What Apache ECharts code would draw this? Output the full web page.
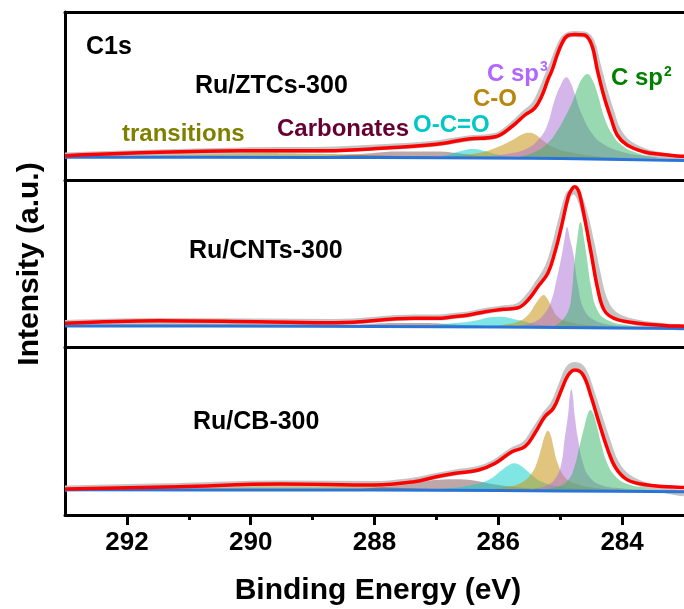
<!DOCTYPE html>
<html>
<head>
<meta charset="utf-8">
<script src="https://cdn.jsdelivr.net/npm/echarts@6/dist/echarts.min.js"></script>
<style>
html,body{margin:0;padding:0;background:#fff;}
#chart{width:684px;height:609px;}
</style>
</head>
<body>
<div id="chart"></div>
<script>
// ---------- tick labels ----------
const majorTicks = [284, 286, 288, 290, 292];
const minorTicks = [285, 287, 289, 291];
const sampleNames = ['Ru/ZTCs-300', 'Ru/CNTs-300', 'Ru/CB-300'];
const componentNames = ['transitions', 'Carbonates', 'O-C=O', 'C-O', 'C sp3', 'C sp2'];

// ---------- Panel 1: Ru/ZTCs-300 ----------
const p1Raw = [[293.0,24.5],[292.01,26.6],[290.15,29.6],[288.81,30.3],[287.76,33.3],[287.0,36.6],[286.48,41.6],[286.05,44],[285.77,55.5],[285.57,67],[285.41,76],[285.29,91],[285.2,105],[285.13,115],[285.05,128],[284.97,139],[284.89,144.5],[284.77,146],[284.61,145.5],[284.49,138],[284.4,117],[284.29,91],[284.17,67],[284.08,51],[283.92,38],[283.65,29],[283.38,24.8],[283.1,22],[283.0,21.5]];
const p1Fit = [[293.0,24.3],[292.01,26.7],[290.15,29.3],[288.81,29.3],[287.76,32.3],[287.0,35.7],[286.48,41],[286.05,43.3],[285.77,54],[285.57,65],[285.41,72],[285.29,85],[285.2,100],[285.13,110],[285.05,125],[284.97,137],[284.89,144],[284.77,145.5],[284.61,145],[284.49,135],[284.4,110],[284.29,83],[284.17,60],[284.08,45],[283.92,35],[283.65,28.3],[283.38,25.7],[283.1,24],[283.0,23.8]];
const p1Base = [[293.0,22.8],[289.0,22.6],[287.0,22.3],[285.5,21.8],[284.5,21.0],[283.5,20.0],[283.0,19.5]];
const p1Trans = [[293.0,23.5],[291.64,25.5],[290.15,27],[288.76,26],[287.64,24],[286.53,22.5],[285.41,22]];
const p1Carb = [[289.4,22.8],[288.76,24],[288.12,26.5],[287.64,28.5],[287.0,28.5],[286.61,26.5],[286.21,23.5],[285.73,22]];
const p1OCO = [[287.0,22.2],[286.77,26],[286.57,29.5],[286.42,31],[286.25,29.5],[286.05,26],[285.81,23],[285.57,21.8]];
const p1CO = [[286.85,22.5],[286.32,27],[286.05,32],[285.77,40],[285.62,45.5],[285.51,47.3],[285.4,45.5],[285.29,40],[285.09,32],[284.77,27],[284.33,23.3],[283.81,22],[283.3,21]];
const p1Sp3 = [[286.32,23],[285.77,27],[285.52,32],[285.36,40],[285.22,53],[285.09,80],[284.99,95],[284.9,102.7],[284.83,97],[284.77,87],[284.66,67],[284.49,47],[284.33,37],[284.01,28.3],[283.6,24],[283.1,21.5],[283.0,21.3]];
const p1Sp2 = [[285.73,22],[285.41,28],[285.2,37],[285.04,50],[284.93,62],[284.81,77],[284.72,92],[284.64,102],[284.56,106],[284.48,100],[284.4,87],[284.29,63],[284.17,47],[284.01,35],[283.76,27],[283.49,23.3],[283.1,21],[283.0,20.8]];

// ---------- Panel 2: Ru/CNTs-300 ----------
const p2Raw = [[293.0,24],[291.49,26],[289.9,25.5],[288.63,25],[287.36,29.5],[287.0,29.5],[286.72,31],[286.48,32.5],[286.21,36],[285.93,38.5],[285.68,41],[285.52,50],[285.36,64],[285.2,80],[285.09,101],[284.98,128],[284.87,152],[284.81,155],[284.77,155.5],[284.73,154],[284.69,150],[284.61,135],[284.5,105],[284.39,72],[284.29,48],[284.13,33],[283.81,25],[283.28,20.5],[283.1,19.8],[283.0,19.5]];
const p2Fit = [[293.0,23.7],[291.49,26.3],[289.9,25.3],[288.63,24.3],[287.36,28.7],[287.0,28.7],[286.72,30.3],[286.48,32],[286.21,35.3],[285.93,37.7],[285.68,39.3],[285.52,47],[285.36,60.3],[285.2,73.7],[285.09,93.7],[284.98,120.3],[284.87,150.3],[284.81,158],[284.77,160.3],[284.73,159],[284.69,153.7],[284.61,130.3],[284.5,93.7],[284.39,57],[284.29,37],[284.13,28.7],[283.81,24.3],[283.28,21.3],[283.1,21],[283.0,20.8]];
const p2Base = [[293.0,21],[289.0,20.8],[287.0,20.3],[285.0,19.5],[283.0,18.5]];
const p2Trans = [[293.0,21.8],[292.0,23.3],[291.0,24.2],[290.0,23.8],[289.0,23],[288.0,21.8],[287.0,21]];
const p2Carb = [[288.8,21],[288.2,22.5],[287.7,24],[287.2,24],[286.7,22.5],[286.2,21]];
const p2OCO = [[287.2,20.8],[286.9,23],[286.48,25.3],[285.99,30.3],[285.68,27],[285.41,23],[285.1,21]];
const p2CO = [[286.05,20.5],[285.93,22],[285.68,25.3],[285.52,32],[285.41,42],[285.33,49],[285.27,52],[285.21,48.5],[285.14,40.3],[285.04,30.3],[284.87,25.3],[284.56,22],[284.2,20.5]];
const p2Sp3 = [[285.73,20.5],[285.41,25.3],[285.25,33.7],[285.14,47],[285.06,67],[284.98,90],[284.93,108],[284.91,116],[284.89,120.3],[284.87,117],[284.85,110],[284.79,93.7],[284.71,60.3],[284.61,37],[284.45,27],[284.18,22],[283.8,20]];
const p2Sp2 = [[285.09,21],[284.98,26],[284.87,36],[284.82,50],[284.77,84],[284.72,110],[284.695,121],[284.67,125.3],[284.645,121],[284.62,110],[284.58,94],[284.5,60],[284.4,37],[284.24,27],[283.92,22],[283.49,20.3],[283.0,19.3]];

// ---------- Panel 3: Ru/CB-300 ----------
const p3Raw = [[293.0,26.5],[291.18,29],[289.51,31.5],[288.0,31],[287.36,34.5],[287.0,39],[286.69,42.5],[286.32,46],[286.05,53],[285.78,64.5],[285.57,71],[285.41,85],[285.25,100],[285.11,111],[284.98,130],[284.87,146],[284.76,150],[284.63,145],[284.5,124],[284.37,99],[284.23,73],[284.1,52],[283.91,38],[283.59,29],[283.1,22.5],[283.0,21.8]];
const p3Fit = [[293.0,26],[291.18,28.3],[289.51,31],[288.0,30],[287.36,33.3],[287.0,38.3],[286.69,41.7],[286.32,45],[286.05,51.7],[285.78,63.3],[285.57,68.3],[285.41,81.7],[285.25,98.3],[285.11,106.7],[284.98,125],[284.87,140],[284.76,145],[284.63,140],[284.5,118.3],[284.37,91.7],[284.23,65],[284.1,46.7],[283.91,35],[283.59,30],[283.1,27.7],[283.0,27.5]];
const p3Base = [[293.0,25.2],[289.0,25],[287.0,24.7],[285.0,24],[283.0,23.2]];
const p3Trans = [[293.0,25.5],[291.8,27],[290.52,28.7],[289.4,29.5],[288.28,28.5],[287.32,26.5],[286.4,25.2]];
const p3Carb = [[288.28,25.8],[287.8,28.5],[287.32,33],[286.72,35.7],[286.4,34.5],[286.05,30.5],[285.65,27.5],[285.09,25.3]];
const p3OCO = [[287.2,25.3],[286.8,26.7],[286.48,29.3],[286.16,35],[285.94,45],[285.84,49.5],[285.74,51.7],[285.63,49],[285.52,43.3],[285.3,33.3],[284.98,28.3],[284.61,26],[284.2,25]];
const p3CO = [[286.3,25.3],[285.84,28.3],[285.6,33.3],[285.46,41.7],[285.38,51.7],[285.3,68.3],[285.25,79],[285.2,84.3],[285.15,79],[285.11,68.3],[285.04,51.7],[284.93,38.3],[284.77,31.7],[284.45,27.3],[284.0,25.3],[283.5,24.3]];
const p3Sp3 = [[285.41,26.5],[285.2,30],[285.06,38.3],[284.98,51.7],[284.93,75],[284.87,101.7],[284.845,119],[284.82,125.7],[284.795,119],[284.77,101.7],[284.71,75],[284.63,51.7],[284.53,38.3],[284.34,30],[284.02,26.7],[283.6,25],[283.0,24]];
const p3Sp2 = [[285.4,25.3],[285.04,28.3],[284.87,35],[284.77,48.3],[284.69,68.3],[284.61,88.3],[284.555,101],[284.51,105],[284.465,101],[284.42,91.7],[284.34,71.7],[284.24,51.7],[284.1,38.3],[283.91,31],[283.6,27.3],[283.17,25],[283.0,24.5]];

// ---------- build ----------
const FONT = 'Liberation Sans, Arial, Helvetica, sans-serif';
const fillColors = {
  trans: 'rgba(128,128,0,0.5)',
  carb: 'rgba(110,60,65,0.45)',
  oco: 'rgba(0,205,200,0.5)',
  co: 'rgba(200,150,20,0.55)',
  sp3: 'rgba(170,110,215,0.5)',
  sp2: 'rgba(50,180,100,0.5)'
};
const panels = [
  {raw:p1Raw, fit:p1Fit, base:p1Base, trans:p1Trans, carb:p1Carb, oco:p1OCO, co:p1CO, sp3:p1Sp3, sp2:p1Sp2, o1:22.7, o2:21.5},
  {raw:p2Raw, fit:p2Fit, base:p2Base, trans:p2Trans, carb:p2Carb, oco:p2OCO, co:p2CO, sp3:p2Sp3, sp2:p2Sp2, o1:20.3, o2:19.7},
  {raw:p3Raw, fit:p3Fit, base:p3Base, trans:p3Trans, carb:p3Carb, oco:p3OCO, co:p3CO, sp3:p3Sp3, sp2:p3Sp2, o1:25.0, o2:24.5}
];
const gridDefs = [
  {top:12, height:168},
  {top:180, height:167},
  {top:347, height:168}
];
const blackLine = {show:true, lineStyle:{color:'#000', width:3}};

const grid = gridDefs.map(g => ({left:65, right:-6, top:g.top, height:g.height, show:false}));
const xAxis = gridDefs.map((g, i) => ({
  gridIndex:i, type:'value', min:283, max:293, inverse:true, position:'bottom',
  axisLine:blackLine, splitLine:{show:false},
  axisTick: i === 2 ? {show:true, customValues:majorTicks, length:10, lineStyle:{color:'#000', width:3}} : {show:false},
  axisLabel: i === 2 ? {show:true, customValues:majorTicks, margin:15, color:'#000', fontSize:26, fontWeight:'bold', fontFamily:FONT} : {show:false}
}));
xAxis.push({
  gridIndex:2, type:'value', min:283, max:293, inverse:true, position:'bottom',
  axisLine:{show:false}, splitLine:{show:false}, axisLabel:{show:false},
  axisTick:{show:true, customValues:minorTicks, length:5, lineStyle:{color:'#000', width:3}}
});
xAxis.push({
  gridIndex:0, type:'value', min:283, max:293, inverse:true, position:'top',
  axisLine:blackLine, splitLine:{show:false}, axisLabel:{show:false}, axisTick:{show:false}
});
const yAxis = gridDefs.map((g, i) => ({gridIndex:i, type:'value', min:0, max:g.height, position:'left',
  axisLine:blackLine, axisTick:{show:false}, axisLabel:{show:false}, splitLine:{show:false}}));

const series = [];
panels.forEach((p, i) => {
  const area = (name, key, origin) => ({
    name, type:'line', xAxisIndex:i, yAxisIndex:i, data:p[key],
    smooth:0.45, showSymbol:false, silent:true,
    lineStyle:{width:0, opacity:0},
    areaStyle:{color:fillColors[key], opacity:1, origin}
  });
  series.push(area(componentNames[0], 'trans', p.o1));
  series.push(area(componentNames[1], 'carb', p.o1));
  series.push(area(componentNames[2], 'oco', p.o2));
  series.push(area(componentNames[3], 'co', p.o2));
  series.push(area(componentNames[4], 'sp3', p.o2));
  series.push(area(componentNames[5], 'sp2', p.o2));
  series.push({name:'raw', type:'line', xAxisIndex:i, yAxisIndex:i, data:p.raw, smooth:0.4, showSymbol:false, silent:true,
    lineStyle:{color:'#c4c4c4', width:6}});
  series.push({name:'background', type:'line', xAxisIndex:i, yAxisIndex:i, data:p.base, smooth:0.3, showSymbol:false, silent:true,
    lineStyle:{color:'#2a74d8', width:3}});
  series.push({name:'fit', type:'line', xAxisIndex:i, yAxisIndex:i, data:p.fit, smooth:0.4, showSymbol:false, silent:true,
    lineStyle:{color:'#ff0000', width:3.5}});
});

function txt(text, x, y, color, size, align) {
  return {type:'text', x, y, z:100, style:{text, fill:color, font:'bold ' + size + 'px ' + FONT,
    textAlign:align || 'left', align:align || 'left', textVerticalAlign:'middle', verticalAlign:'middle'}};
}
const graphic = [
  txt('C1s', 86, 47, '#000', 25),
  txt(sampleNames[0], 195, 86, '#000', 25),
  txt(sampleNames[1], 189, 251, '#000', 25),
  txt(sampleNames[2], 193, 422, '#000', 25),
  txt(componentNames[0], 122, 134, '#808000', 24),
  txt(componentNames[1], 277, 129, '#660033', 24),
  txt(componentNames[2], 413, 125, '#00c8c8', 24),
  txt(componentNames[3], 473, 99, '#b8860b', 24),
  txt('C sp', 487, 74, '#b266ff', 24),
  txt('3', 540, 67, '#b266ff', 14),
  txt('C sp', 611, 78, '#008000', 24),
  txt('2', 664, 72, '#008000', 14),
  txt('Binding Energy (eV)', 378, 591, '#000', 30, 'center'),
  Object.assign(txt('Intensity (a.u.)', 30, 264, '#000', 30, 'center'), {rotation:Math.PI/2})
];

const chart = echarts.init(document.getElementById('chart'), null, {renderer:'canvas'});
chart.setOption({
  animation:false,
  backgroundColor:'#fff',
  grid, xAxis, yAxis, series, graphic
});
</script>
</body>
</html>
